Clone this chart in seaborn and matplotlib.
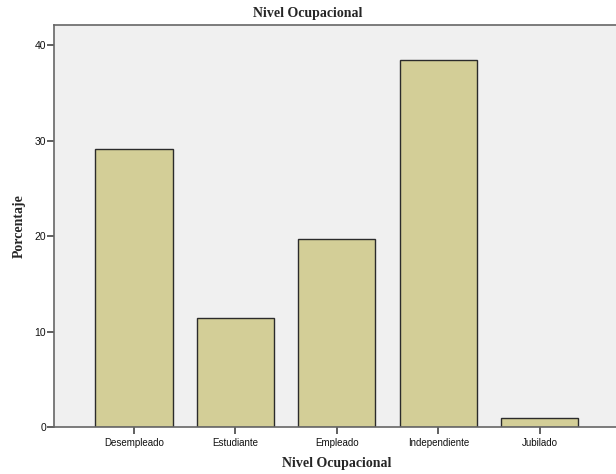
import matplotlib
matplotlib.use('Agg')
import matplotlib.pyplot as plt
import seaborn as sns

# data
categorias = ['Desempleado', 'Estudiante', 'Empleado', 'Independiente', 'Jubilado']
porcentaje = [29.2, 11.4, 19.7, 38.5, 1.0]

sns.set_style('white')
plt.rcParams['font.family'] = ['Liberation Sans', 'DejaVu Sans']

fig = plt.figure(figsize=(6.16, 4.74), dpi=100)
ax = fig.add_axes([0.0881, 0.0985, 0.9177, 0.848])
ax.set_facecolor('#F0F0F0')

sns.barplot(x=categorias, y=porcentaje, color='#D3CE97', saturation=1,
            edgecolor='#2b2b2b', linewidth=1.0, width=0.76, ax=ax)

ax.set_xlim(-0.785, 4.785)
ax.set_ylim(0, 42.1)
ax.set_yticks([0, 10, 20, 30, 40])

for side in ['left', 'bottom', 'top', 'right']:
    ax.spines[side].set_color('#666666')
    ax.spines[side].set_linewidth(1.2)

# seaborn's white style hides ticks, turn them back on
ax.tick_params(axis='both', which='major', direction='out', length=5, width=1.2,
               color='#444444', labelsize=7.5, labelcolor='#111111', pad=1,
               bottom=True, left=True)
ax.tick_params(axis='x', labelsize=7, pad=3)

serif = ['Liberation Serif', 'DejaVu Serif']
ax.set_xlabel('Nivel Ocupacional', fontsize=10, fontweight='bold', family=serif, labelpad=6)
ax.set_ylabel('Porcentaje', fontsize=10, fontweight='bold', family=serif, labelpad=6)
fig.text(0.5, 0.972, 'Nivel Ocupacional', ha='center', va='center',
         fontsize=10, fontweight='bold', family=serif)

fig.savefig('out.png', dpi=100, facecolor='white')
